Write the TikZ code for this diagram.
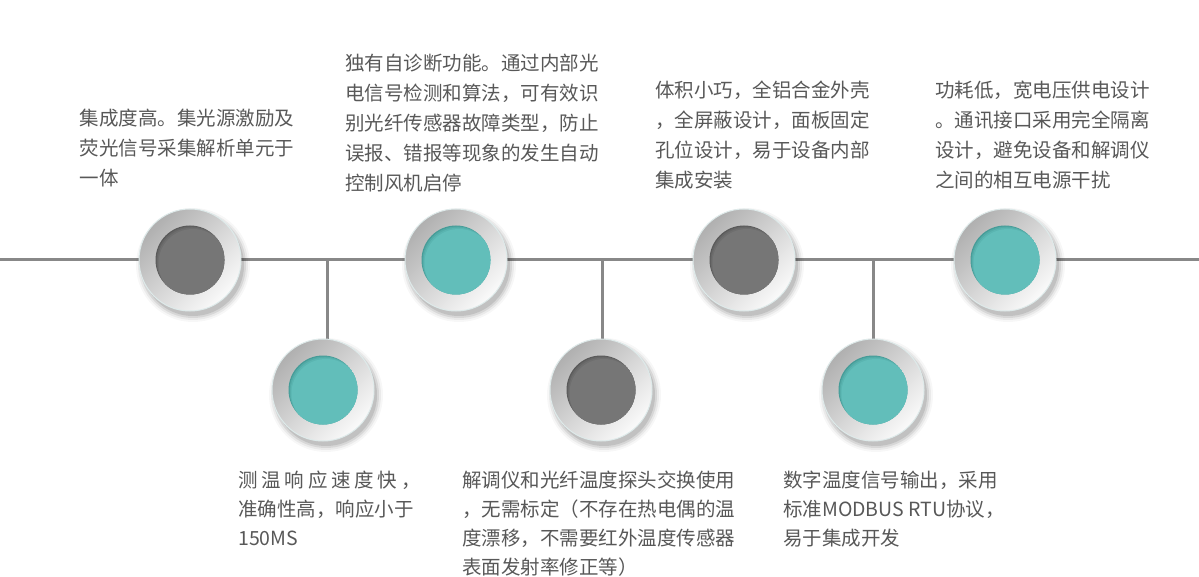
\documentclass[tikz,border=0pt]{standalone}
\usepackage{fontspec}
\setmainfont{Noto Sans CJK SC}
\definecolor{tealc}{RGB}{98,190,186}
\definecolor{tealdark}{RGB}{70,156,152}
\definecolor{grayc}{RGB}{118,118,118}
\definecolor{graydark}{RGB}{90,90,90}
\definecolor{linec}{RGB}{136,136,136}
\definecolor{txt}{RGB}{88,88,88}
\definecolor{rimc}{RGB}{222,234,234}
\definecolor{ringA}{RGB}{176,176,176}
\definecolor{ringB}{RGB}{250,250,250}
\newcommand\mydisc[3]{%
  \begin{scope}[shift={(#1.center)}]
    \foreach \r/\o in {57/0.03,55/0.05,53/0.08,51/0.10}{\fill[black,opacity=\o] (3,5) circle (\r pt);}
    \shade[top color=ringA, bottom color=ringB, shading angle=45] (0,0) circle (51pt);
    \draw[rimc, line width=1pt] (0,0) circle (51pt);
    \begin{scope}
      \clip (0,0) circle (34.5pt);
      \fill[#3] (0,0) circle (35pt);
      \fill[#2,opacity=.45] (1,1) circle (34.5pt);
      \fill[#2,opacity=.55] (2,2.2) circle (34.5pt);
      \fill[#2] (3,3.5) circle (34.5pt);
    \end{scope}
  \end{scope}}
\tikzset{
  disc/.style={circle, minimum size=102pt, inner sep=0pt},
  conn/.style={draw=linec, line width=3pt},
  desc/.style={anchor=north west, inner sep=0pt, align=left, text=txt, font=\fontsize{19.5pt}{30pt}\selectfont},
  descb/.style={desc, font=\fontsize{19.5pt}{29pt}\selectfont}
}
\begin{document}
\begin{tikzpicture}[x=1pt,y=-1pt]
\fill[white] (0,0) rectangle (1199,577);
\useasboundingbox (0,0) rectangle (1199,577);
% node placeholders
\node[disc] (c1) at (190,260) {};
\node[disc] (c2) at (456,260) {};
\node[disc] (c3) at (744,260) {};
\node[disc] (c4) at (1005,260) {};
\node[disc] (b1) at (323,390) {};
\node[disc] (b2) at (601,390) {};
\node[disc] (b3) at (873,390) {};
\coordinate (L) at (0,260);
\coordinate (R) at (1199,260);
\coordinate (j1) at (327,260);
\coordinate (j2) at (602,260);
\coordinate (j3) at (873,260);
% connectors
\draw[conn] (L) -- (c1) -- (c2) -- (c3) -- (c4) -- (R);
\draw[conn] (j1) -- (j1 |- b1.north);
\draw[conn] (j2) -- (j2 |- b2.north);
\draw[conn] (j3) -- (j3 |- b3.north);
% discs
\mydisc{c1}{grayc}{graydark}
\mydisc{c2}{tealc}{tealdark}
\mydisc{c3}{grayc}{graydark}
\mydisc{c4}{tealc}{tealdark}
\mydisc{b1}{tealc}{tealdark}
\mydisc{b2}{grayc}{graydark}
\mydisc{b3}{tealc}{tealdark}
% texts
\node[desc] (t1) at (79.5,104.4) {\strut 集成度高。集光源激励及\\荧光信号采集解析单元于\\一体};
\node[desc] (t2) at (345,49) {\strut 独有自诊断功能。通过内部光\\电信号检测和算法，可有效识\\别光纤传感器故障类型，防止\\误报、错报等现象的发生自动\\控制风机启停};
\node[desc] (t3) at (655,76.4) {\strut 体积小巧，全铝合金外壳\\，全屏蔽设计，面板固定\\孔位设计，易于设备内部\\集成安装};
\node[desc] (t4) at (935,76.4) {\strut 功耗低，宽电压供电设计\\。通讯接口采用完全隔离\\设计，避免设备和解调仪\\之间的相互电源干扰};
\node[descb] (t5) at (238,467) {\strut 测\kern3.8pt 温\kern3.8pt 响\kern3.8pt 应\kern3.8pt 速\kern3.8pt 度\kern3.8pt 快\kern3.8pt ，\\准确性高，响应小于\\150MS};
\node[descb] (t6) at (462,467) {\strut 解调仪和光纤温度探头交换使用\\，无需标定（不存在热电偶的温\\度漂移，不需要红外温度传感器\\表面发射率修正等）};
\node[descb] (t7) at (783,467) {\strut 数字温度信号输出，采用\\标准MODBUS RTU协议，\\易于集成开发};
\end{tikzpicture}
\end{document}
